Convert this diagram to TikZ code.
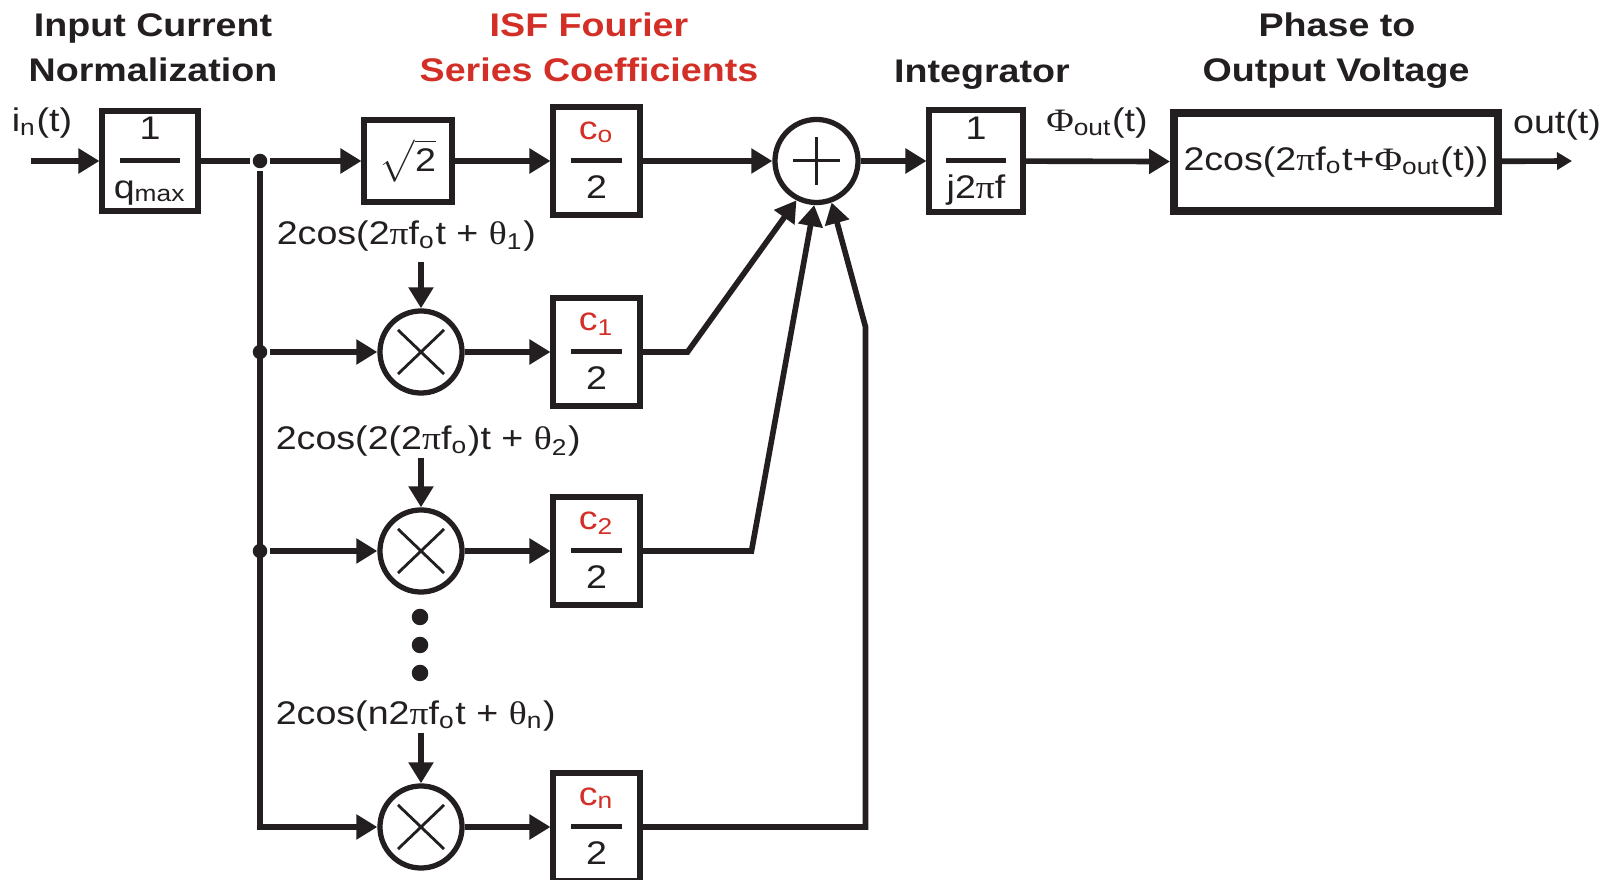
\documentclass[tikz,border=0pt]{standalone}
\usepackage{fontspec}
\setmainfont{Liberation Sans}[FakeStretch=1.15]
\newfontfamily\grfont{Liberation Serif}[FakeStretch=1.15]
\usetikzlibrary{arrows.meta,positioning,calc}

\definecolor{isfred}{RGB}{211,47,39}
\definecolor{ink}{RGB}{35,31,32}
\newcommand{\lf}{\fontsize{9.3}{11}\selectfont}
\newcommand{\gk}[1]{{\grfont #1}}
\newcommand{\sub}[1]{\textsubscript{#1}}
\setlength{\arrayrulewidth}{1.25pt}
\newcommand{\frc}[3]{\begin{tabular}{@{}c@{}}\makebox[#3]{#1}\rule[-5.4pt]{0pt}{5.4pt}\\\hline\rule{0pt}{10pt}\makebox[#3]{#2}\end{tabular}}

\begin{document}
\begin{tikzpicture}[
    x=0.01cm, y=-0.01cm,
    color=ink, line width=1.6pt,
    blk/.style={draw, line width=1.7pt, inner sep=0, font=\lf},
    mult/.style={circle, draw, line width=1.5pt, minimum size=0.82cm, inner sep=0,
        path picture={\draw[line width=0.8pt] (path picture bounding box.center)
            +(-0.23cm,-0.22cm) -- +(0.23cm,0.22cm) +(-0.23cm,0.22cm) -- +(0.23cm,-0.22cm);}},
    adder/.style={circle, draw, line width=1.5pt, minimum size=0.83cm, inner sep=0,
        path picture={\draw[line width=0.85pt] (path picture bounding box.center)
            +(-0.235cm,0) -- +(0.235cm,0) +(0,-0.24cm) -- +(0,0.24cm);}},
    junc/.style={circle, fill, inner sep=0, minimum size=0.145cm},
    vdot/.style={circle, fill, inner sep=0, minimum size=0.165cm},
    arr/.style={-{Triangle[length=0.21cm,width=0.24cm]}},
    arrsmall/.style={-{Triangle[length=0.15cm,width=0.17cm]}},
    lbl/.style={font=\lf, inner sep=0},
    ttl/.style={font=\lf\bfseries, inner sep=0, anchor=base}
]
    \path[use as bounding box, fill=white] (0,0) rectangle (1612,880);
    \clip (0,0) rectangle (1612,880);

    % Titles
    \node[ttl] at (153,37) {Input Current};
    \node[ttl] at (153,82) {Normalization};
    \node[ttl, isfred] at (589,37) {ISF Fourier};
    \node[ttl, isfred] at (589,82) {Series Coefficients};
    \node[ttl] at (982,83) {Integrator};
    \node[ttl] at (1337,37) {Phase to};
    \node[ttl] at (1336,82) {Output Voltage};

    % Top row
    \coordinate (in) at (31,161);
    \node[lbl, anchor=base] (inlbl) at (42,132) {i\sub{n}(t)};
    \node[blk, minimum width=0.95cm, minimum height=1.0cm] (qmax) at (150,161) {\frc{1}{q\sub{max}}{0.6cm}};
    \node[junc] (j0) at (260,161) {};
    \node[blk, minimum width=0.87cm, minimum height=0.81cm] (sq) at (408,161) {$\sqrt{\hbox{2}\vphantom{\hbox{(}}}$};
    \node[blk, minimum width=0.86cm, minimum height=1.08cm] (c0) at (596.5,161) {\frc{\textcolor{isfred}{c\sub{o}}}{2}{0.5cm}};
    \node[adder] (sum) at (816.5,161) {};
    \node[blk, minimum width=0.93cm, minimum height=1.02cm] (integ) at (976,161) {\frc{1}{j2\gk{π}f}{0.6cm}};
    \node[lbl, anchor=base] (philbl) at (1097,132) {\gk{Φ}\sub{out}(t)};
    \node[blk, line width=2.2pt, minimum width=3.24cm, minimum height=0.975cm] (phase) at (1336,162) {2cos(2\gk{π}f\sub{o}t+\gk{Φ}\sub{out}(t))};
    \coordinate (out) at (1572,161);
    \node[lbl, anchor=base] (outlbl) at (1557,134) {out(t)};

    % Harmonic rows
    \node[lbl, anchor=base west] (lc1) at (274,245) {2cos(2\gk{π}f\sub{o}t + \gk{θ}\sub{1})};
    \coordinate (s1) at (421,262);
    \node[junc] (j1) at (260,352) {};
    \node[mult] (m1) at (421,352) {};
    \node[blk, minimum width=0.86cm, minimum height=1.08cm] (c1) at (596.5,352) {\frc{\textcolor{isfred}{c\sub{1}}}{2}{0.5cm}};

    \node[lbl, anchor=base west] (lc2) at (273,450) {2cos(2(2\gk{π}f\sub{o})t + \gk{θ}\sub{2})};
    \coordinate (s2) at (421,458);
    \node[junc] (j2) at (260,551) {};
    \node[mult] (m2) at (421,551) {};
    \node[blk, minimum width=0.86cm, minimum height=1.08cm] (c2) at (596.5,551) {\frc{\textcolor{isfred}{c\sub{2}}}{2}{0.5cm}};

    \node[vdot] (d1) at (420,617) {};
    \node[vdot] (d2) at (420,645) {};
    \node[vdot] (d3) at (420,673) {};

    \node[lbl, anchor=base west] (lcn) at (273,725) {2cos(n2\gk{π}f\sub{o}t + \gk{θ}\sub{n})};
    \coordinate (sn) at (421,733);
    \node[mult] (mn) at (421,827) {};
    \node[blk, minimum width=0.86cm, minimum height=1.08cm] (cn) at (596.5,827) {\frc{\textcolor{isfred}{c\sub{n}}}{2}{0.5cm}};

    % Arrows
    \draw[arr] (in) -- (qmax);
    \draw (qmax) -- (j0);
    \draw[arr] (j0) -- (sq);
    \draw[arr] (sq) -- (c0);
    \draw[arr] (c0) -- (sum);
    \draw[arr] (sum) -- (integ);
    \draw[arr] (integ) -- (phase);
    \draw[arrsmall] (phase) -- (out);

    \draw[arr] (j0) |- (mn);
    \draw[arr] (j1) -- (m1);
    \draw[arr] (j2) -- (m2);
    \draw[arr] (s1) -- (m1);
    \draw[arr] (s2) -- (m2);
    \draw[arr] (sn) -- (mn);
    \draw[arr] (m1) -- (c1);
    \draw[arr] (m2) -- (c2);
    \draw[arr] (mn) -- (cn);

    \draw[arr] (c1.east) -- ++(45,0) -- (sum.243);
    \draw[arr] (c2.east) -- ++(109,0) -- (sum.267);
    \draw[arr] (cn.east) -- ++(223,0) -- ++(0,-500) -- (sum.290);
\end{tikzpicture}
\end{document}
